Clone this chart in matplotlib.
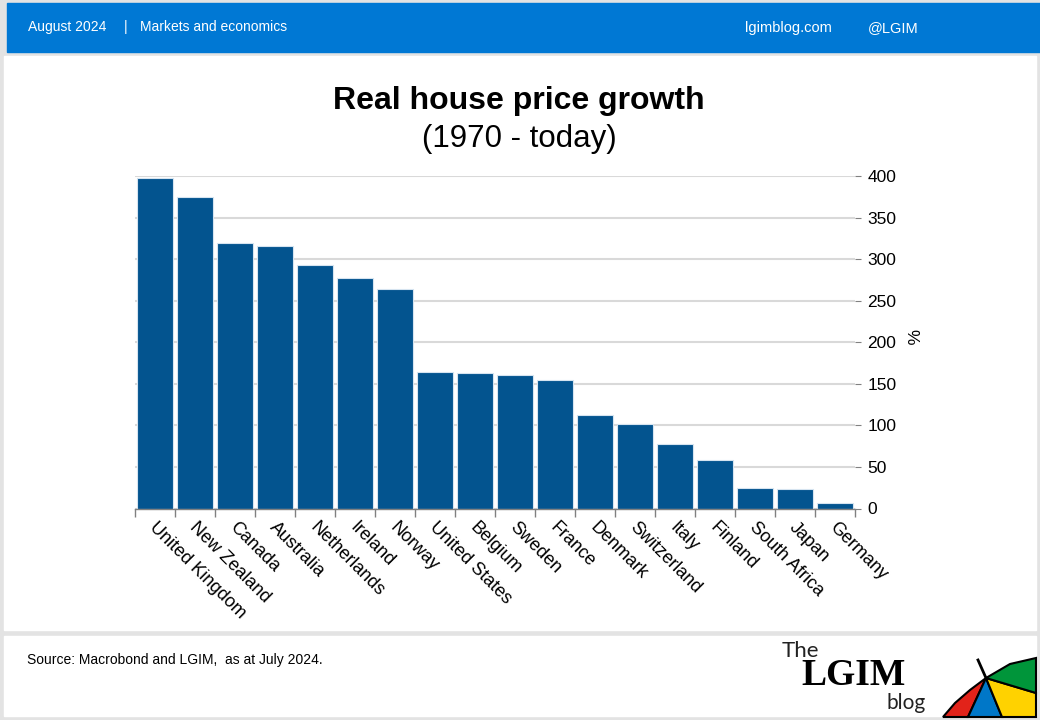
import matplotlib.pyplot as plt
from matplotlib.patches import Rectangle, Polygon

# Data
countries = ["United Kingdom", "New Zealand", "Canada", "Australia", "Netherlands",
             "Ireland", "Norway", "United States", "Belgium", "Sweden", "France",
             "Denmark", "Switzerland", "Italy", "Finland", "South Africa", "Japan",
             "Germany"]
growth = [398, 375, 319, 316, 293, 277, 264, 164, 163, 161, 154, 112, 102, 77, 58, 25, 24, 7]
y_ticks = [0, 50, 100, 150, 200, 250, 300, 350, 400]

plt.rcParams["font.family"] = ["Liberation Sans", "DejaVu Sans"]

W, H = 1040, 720
fig = plt.figure(figsize=(W / 100, H / 100), dpi=100, facecolor="#e3e3e3")

# background layer in pixel coordinates
bg = fig.add_axes([0, 0, 1, 1], zorder=0)
bg.set_xlim(0, W)
bg.set_ylim(H, 0)
bg.axis("off")
bg.add_patch(Rectangle((7, 3), W - 7, 49, color="#0078d4"))
bg.add_patch(Rectangle((4, 56), 1032, 574, color="white"))
bg.add_patch(Rectangle((4, 636), 1032, 80, color="white"))

bg.text(28, 27, "August 2024", color="white", fontsize=10, va="center")
bg.text(124, 27, "|", color="white", fontsize=10, va="center")
bg.text(140, 27, "Markets and economics", color="white", fontsize=10, va="center")
bg.text(745, 28, "lgimblog.com", color="white", fontsize=10.5, va="center")
bg.text(868, 28, "@LGIM", color="white", fontsize=10.5, va="center")

bg.text(519, 101, "Real house price growth", fontsize=23, fontweight="bold",
        ha="center", va="center")
bg.text(519, 139, "(1970 - today)", fontsize=22.5, ha="center", va="center")
bg.text(911, 337, "%", fontsize=12.5, rotation=-90, ha="center", va="center")

bg.text(27, 660, "Source: Macrobond and LGIM,  as at July 2024.", fontsize=10,
        va="center")

# logo
bg.text(782, 651, "The", fontsize=16, family=["Lato", "DejaVu Sans"],
        color="#222222", va="center")
bg.text(801, 685, "LGIM", fontsize=27, fontweight="bold",
        family=["Liberation Serif", "DejaVu Serif"], va="baseline")
bg.text(887, 709, "blog", fontsize=15, family=["Lato", "DejaVu Sans"],
        color="#222222", va="baseline")
apex = (986, 678)
wedges = [
    ([apex, (970, 690), (955, 703), (943, 717), (968, 717)], "#e2231a"),
    ([apex, (968, 717), (1002, 717)], "#0077c8"),
    ([apex, (1002, 717), (1036, 717), (1036, 693)], "#ffd200"),
    ([apex, (1036, 693), (1036, 658), (1010, 664)], "#00953a"),
]
for pts, c in wedges:
    bg.add_patch(Polygon(pts, closed=True, facecolor=c, edgecolor="black", lw=1.5))
bg.plot([978, 986], [660, 678], color="black", lw=2)

# chart
ax = fig.add_axes([135 / W, 1 - 508.5 / H, 720 / W, (508.5 - 176) / H], zorder=1)
ax.set_facecolor("white")
x = list(range(len(countries)))
ax.bar(x, growth, width=0.92, color="#03548f", edgecolor="#d6e4f0", linewidth=0.8,
       zorder=2)
ax.set_xlim(-0.5, len(countries) - 0.5)
ax.set_ylim(0, 400)

ax.yaxis.tick_right()
ax.set_yticks(y_ticks)
ax.set_yticklabels([str(v) for v in y_ticks], fontsize=12.5)
ax.tick_params(axis="y", length=4, color="#808080", pad=5)
ax.grid(axis="y", color="#d9d9d9", linewidth=1.5, zorder=0)

ax.set_xticks([i - 0.5 for i in range(len(countries) + 1)])
ax.set_xticklabels([])
ax.tick_params(axis="x", length=6, color="#808080", width=1)
for i, name in enumerate(countries):
    ax.text(i + 0.08, -13, name, rotation=-45, rotation_mode="anchor",
            ha="left", va="top", fontsize=13)

for s in ["top", "left", "right"]:
    ax.spines[s].set_visible(False)
ax.spines["bottom"].set_color("#808080")
ax.spines["bottom"].set_linewidth(1)

fig.savefig("out.png", dpi=100, facecolor=fig.get_facecolor())
